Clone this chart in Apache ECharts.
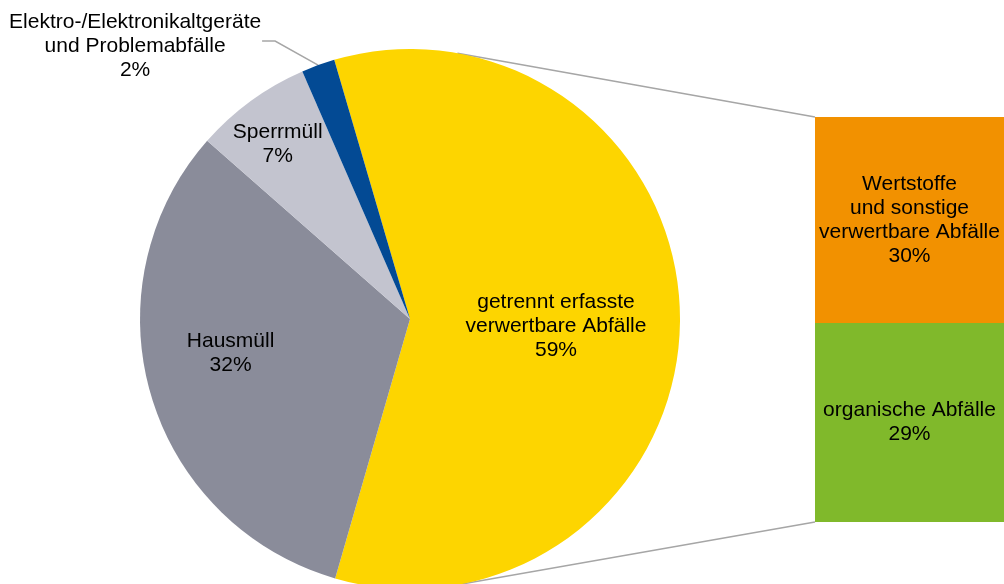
<!DOCTYPE html>
<html>
<head>
<meta charset="utf-8">
<script src="https://cdn.jsdelivr.net/npm/echarts@6/dist/echarts.min.js"></script>
<style>
html, body { margin: 0; padding: 0; background: #fff; }
#chart { width: 1004px; height: 584px; }
</style>
</head>
<body>
<div id="chart"></div>
<script>
// Kreis: Anteile am Gesamtaufkommen
const pieNames = ['getrennt erfasste\nverwertbare Abfälle', 'Hausmüll', 'Sperrmüll', 'Elektro-/Elektronikaltgeräte\nund Problemabfälle'];
const pieValues = [59, 32, 7, 2];
const pieColors = ['#FDD500', '#8A8C9A', '#C3C4CF', '#034A94'];

// Balken: Aufteilung der getrennt erfassten Abfälle (von unten nach oben)
const barNames = ['organische Abfälle', 'Wertstoffe\nund sonstige\nverwertbare Abfälle'];
const barValues = [29, 30];
const barColors = ['#80B92B', '#F29100'];

const font = 'Liberation Sans, Arial, sans-serif';
const cx = 410, cy = 319, R = 270;
const startAngle = 106.3;
const barLeft = 815, barTop = 117, barHeight = 405, barW = 200;
// Excel setzt die Beschriftungen anders als echarts
const labelShift = [[8, 7], [-47, -5], [-51, -63]];

const total = pieValues.reduce((s, v) => s + v, 0);

// Randpunkt der Mitte eines Segments
function midPoint(idx) {
    let before = 0;
    for (let i = 0; i < idx; i++) before += pieValues[i];
    const mid = before + pieValues[idx] / 2;
    const a = (startAngle - mid / total * 360) * Math.PI / 180;
    return [cx + R * Math.cos(a), cy - R * Math.sin(a)];
}

// Tangentenpunkt am Kreis fuer die Verbindungslinien
function tangentPoint(px, py, upper) {
    const dx = px - cx, dy = py - cy;
    const d = Math.sqrt(dx * dx + dy * dy);
    const base = Math.atan2(dy, dx);
    const off = Math.acos(R / d);
    const a = upper ? base - off : base + off;
    return [cx + R * Math.cos(a), cy + R * Math.sin(a)];
}

const t1 = tangentPoint(barLeft, barTop, true);
const t2 = tangentPoint(barLeft, barTop + barHeight, false);

const option = {
    animation: false,
    grid: { left: barLeft, top: barTop, width: barW, height: barHeight },
    xAxis: { type: 'category', data: [''], show: false },
    yAxis: { type: 'value', min: 0, max: barValues[0] + barValues[1], show: false },
    graphic: [
        { type: 'line', shape: { x1: t1[0], y1: t1[1], x2: barLeft, y2: barTop }, style: { stroke: '#A6A6A6', lineWidth: 1.5 } },
        { type: 'line', shape: { x1: t2[0], y1: t2[1], x2: barLeft, y2: barTop + barHeight }, style: { stroke: '#A6A6A6', lineWidth: 1.5 } }
    ],
    series: [
        {
            type: 'pie',
            silent: true,
            center: [cx, cy],
            radius: R,
            startAngle: startAngle,
            clockwise: true,
            data: pieNames.map((n, i) => ({
                name: n,
                value: pieValues[i],
                itemStyle: { color: pieColors[i] },
                label: { position: i === 3 ? 'outside' : 'inside' },
                labelLine: { show: i === 3 }
            })),
            label: {
                formatter: '{b}\n{c}%',
                color: '#000',
                fontFamily: font,
                fontSize: 21,
                lineHeight: 24
            },
            labelLine: { length: 10, length2: 10, lineStyle: { color: '#A6A6A6', width: 1.5 } },
            labelLayout: function (p) {
                if (p.dataIndex < 3) {
                    return { dx: labelShift[p.dataIndex][0], dy: labelShift[p.dataIndex][1] };
                }
                const a = midPoint(p.dataIndex);
                const b = [a[0] - 43, a[1] - 24];
                const c = [b[0] - 13, b[1]];
                return { x: c[0] - 127, y: c[1] + 5, align: 'center', verticalAlign: 'middle', labelLinePoints: [a, b, c] };
            }
        }
    ].concat(barNames.map((n, i) => ({
        type: 'bar',
        name: n,
        stack: 'anteil',
        silent: true,
        barWidth: '100%',
        data: [barValues[i]],
        itemStyle: { color: barColors[i] },
        label: {
            show: true,
            position: 'inside',
            formatter: '{a}\n{c}%',
            color: '#000',
            fontFamily: font,
            fontSize: 21,
            lineHeight: 24
        }
    })))
};

const chart = echarts.init(document.getElementById('chart'));
chart.setOption(option);
</script>
</body>
</html>
